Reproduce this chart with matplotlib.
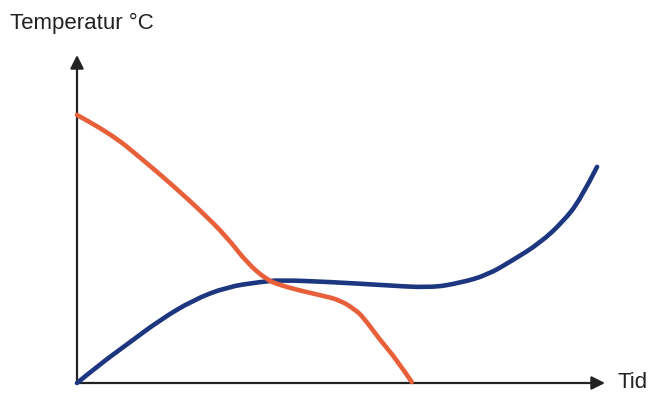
import matplotlib
matplotlib.use("Agg")
import matplotlib.pyplot as plt
from matplotlib.path import Path
from matplotlib.patches import PathPatch

# Schematic heating curves (time 0..10, temperature 0..100, arbitrary units)
t_red = [0.0, 0.63, 1.25, 1.76, 2.33, 2.84, 3.22, 3.60, 3.84, 4.17, 4.60,
         4.98, 5.27, 5.42, 5.74, 6.06, 6.34]
T_red = [81.7, 76.2, 68.0, 61.0, 52.7, 44.5, 36.6, 31.4, 29.9, 28.4, 26.8,
         25.3, 22.3, 20.1, 13.1, 7.0, 0.3]

t_blue = [0.0, 0.44, 0.95, 1.57, 2.20, 2.84, 3.47, 3.84, 4.79, 5.74, 6.69, 7.25,
          7.77, 8.26, 8.77, 9.20, 9.53, 9.85]
T_blue = [0.0, 5.8, 11.8, 19.2, 25.3, 29.3, 30.8, 31.4, 30.8, 29.9, 29.0, 30.5,
          32.9, 37.5, 42.7, 49.1, 55.8, 65.9]

plt.rcParams["font.family"] = ["Liberation Sans", "DejaVu Sans"]


def smooth_path(xs, ys):
    # quadratic bezier through midpoints, the read points act as control points
    pts = list(zip(xs, ys))
    verts = [pts[0]]
    codes = [Path.MOVETO]
    for i in range(1, len(pts) - 1):
        mid = ((pts[i][0] + pts[i + 1][0]) / 2, (pts[i][1] + pts[i + 1][1]) / 2)
        if i == len(pts) - 2:
            mid = pts[-1]
        verts += [pts[i], mid]
        codes += [Path.CURVE3, Path.CURVE3]
    return Path(verts, codes)


fig = plt.figure(figsize=(6.52, 3.93), dpi=100)
ax = fig.add_axes([77 / 652, 10 / 393, 528 / 652, 328 / 393])
ax.set_xlim(0, 10)
ax.set_ylim(0, 100)
ax.axis("off")

for xs, ys, col, z in [(t_blue, T_blue, "#1c3680", 2), (t_red, T_red, "#e8603a", 3)]:
    patch = PathPatch(smooth_path(xs, ys), fill=False, edgecolor=col, lw=3.3,
                      capstyle="round", joinstyle="round", clip_on=False, zorder=z)
    ax.add_patch(patch)

arrow = dict(arrowstyle="-|>", color="#222222", lw=1.6, mutation_scale=20,
             shrinkA=0, shrinkB=0)
ax.annotate("", xy=(1, 0), xytext=(0, 0), xycoords="axes fraction",
            arrowprops=arrow, zorder=1)
ax.annotate("", xy=(0, 1), xytext=(0, 0), xycoords="axes fraction",
            arrowprops=arrow, zorder=1)

fig.text(10 / 652, 1 - 23 / 393, "Temperatur °C", fontsize=16,
         color="#222222", va="center", ha="left")
fig.text(618 / 652, 1 - 382 / 393, "Tid", fontsize=16,
         color="#222222", va="center", ha="left")

fig.savefig("out.png", dpi=100, facecolor="white")
